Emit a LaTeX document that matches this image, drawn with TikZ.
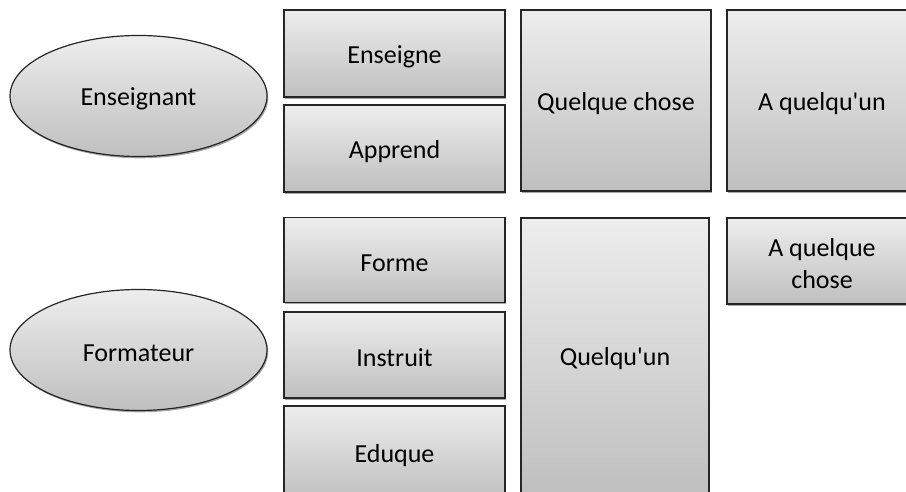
\documentclass[tikz,border=0pt]{standalone}
\usepackage{fontspec}
\setmainfont{Carlito}[Ligatures=TeXOff]
\usetikzlibrary{shapes.geometric,shadows}
\tikzset{
  base/.style={draw=black!85, line width=1.2pt, top color=gray!14, bottom color=gray!50,
    drop shadow={shadow xshift=1.2pt, shadow yshift=-1.8pt, opacity=0.35, fill=black},
    inner sep=0pt},
  txt/.style={font=\fontsize{26}{32}\selectfont, align=center, inner sep=0pt, yshift=-3pt},
  box/.style={base, rectangle},
  oval/.style={base, ellipse}
}
\begin{document}
\begin{tikzpicture}[x=1pt,y=-1pt]
\useasboundingbox (0,0) rectangle (906,492);
\clip (0,0) rectangle (906,492);
\fill[white] (0,0) rectangle (906,492);
\node[oval, minimum width=257pt, minimum height=121pt, label={[txt]center:Enseignant}] (ens) at (138.5,96) {};
\node[oval, minimum width=257pt, minimum height=121pt, label={[txt]center:Formateur}] (form) at (138.5,350) {};
\node[box, minimum width=221pt, minimum height=87pt, label={[txt]center:Enseigne}] (enseigne) at (394.5,53.5) {};
\node[box, minimum width=221pt, minimum height=87pt, label={[txt]center:Apprend}] (apprend) at (394.5,148.5) {};
\node[box, minimum width=190pt, minimum height=181pt, label={[txt]center:Quelque chose}] (qc) at (616,100.5) {};
\node[box, minimum width=190pt, minimum height=181pt, label={[txt]center:A quelqu'un}] (aqu) at (822,100.5) {};
\node[box, minimum width=190pt, minimum height=86pt, label={[txt]center:A quelque\\chose}] (aqc) at (822,261) {};
\node[box, minimum width=221pt, minimum height=85pt, label={[txt]center:Forme}] (forme) at (394.5,260) {};
\node[box, minimum width=221pt, minimum height=86pt, label={[txt]center:Instruit}] (instruit) at (394.5,355) {};
\node[box, minimum width=221pt, minimum height=94pt, label={[txt]center:Eduque}] (eduque) at (394.5,453) {};
\node[box, minimum width=188pt, minimum height=276pt, label={[txt]center:Quelqu'un}] (qun) at (615,356) {};
\end{tikzpicture}
\end{document}
